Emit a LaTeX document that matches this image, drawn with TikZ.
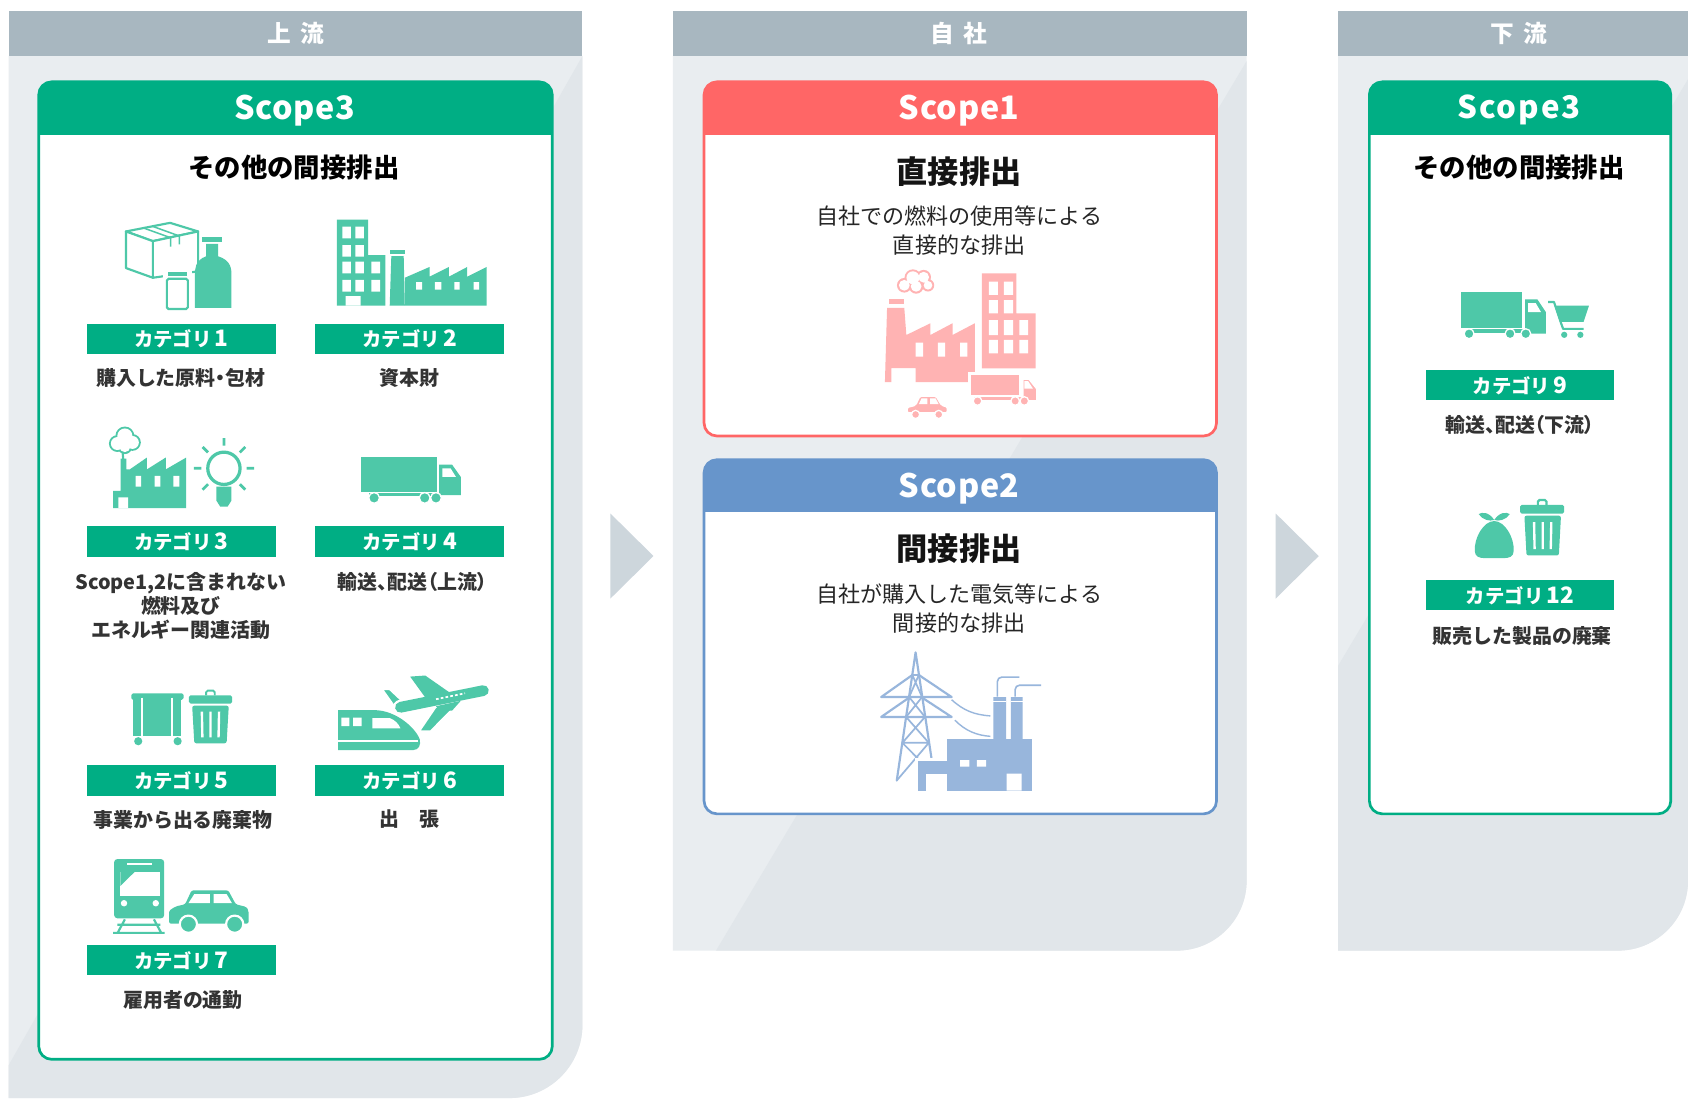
\documentclass[tikz,border=0pt]{standalone}
\usepackage{fontspec}
\setmainfont{Noto Sans CJK JP}
\newfontfamily\medfont{Noto Sans CJK JP}[LetterSpace=2]
\newfontfamily\widefont{Noto Sans CJK JP}[LetterSpace=6]
\newfontfamily\paltfont{Noto Sans CJK JP}[RawFeature=+palt]
\definecolor{hdrgray}{HTML}{A8B7C0}
\definecolor{panellt}{HTML}{E9EDF0}
\definecolor{paneldk}{HTML}{E1E6EA}
\definecolor{arrowgray}{HTML}{CDD6DC}
\definecolor{scgreen}{HTML}{00AE84}
\definecolor{icogreen}{HTML}{4EC8A8}
\definecolor{scred}{HTML}{FF6666}
\definecolor{icopink}{HTML}{FFB3B3}
\definecolor{scblue}{HTML}{6795CB}
\definecolor{icoblue}{HTML}{98B6DC}
\definecolor{txtdark}{HTML}{333333}
\newcommand\catnum[1]{\,{\fontsize{21}{21}\selectfont #1}}
\begin{document}
\begin{tikzpicture}[x=1pt,y=-1pt,
  flowhead/.style={text=white,inner sep=0,font=\fontsize{22}{24}\selectfont\bfseries},
  scopetitle/.style={text=white,inner sep=0,font=\medfont\fontsize{30}{32}\selectfont\bfseries},
  subtitle/.style={text=black,inner sep=0,font=\fontsize{24.5}{26}\selectfont\bfseries},
  catbar/.style={fill=scgreen,text=white,minimum width=175,minimum height=28,inner sep=0,
                 font=\fontsize{18}{20}\selectfont\bfseries},
  catdesc/.style={text=txtdark,inner sep=0,align=center,font=\fontsize{18.5}{22}\selectfont\bfseries},
  bigtitle/.style={text=black!92,inner sep=0,font=\fontsize{29}{31}\selectfont\bfseries},
  desc/.style={text=black!85,inner sep=0,align=center,font=\fontsize{20.5}{27}\selectfont},
  flowarrow/.style={fill=arrowgray},
  gline/.style={draw=icogreen,line width=2,line join=round},
  bline/.style={draw=icoblue,line width=2,line join=round,line cap=round},
  halo/.style={draw=white,line width=2.5},
]
\useasboundingbox (0,0) rectangle (1568,1020);
\fill[white] (0,0) rectangle (1568,1020);

% ---------- column backgrounds ----------
\begin{scope}
  \clip (8,52) -- (541,52) -- (541,952) arc[start angle=0,end angle=90,radius=68] -- (8,1020) -- cycle;
  \fill[panellt] (0,40) rectangle (600,1030);
  \fill[paneldk] (545,45) -- (600,45) -- (600,1030) -- (-15,1030) -- cycle;
\end{scope}
\begin{scope}
  \clip (625,52) -- (1158,52) -- (1158,818) arc[start angle=0,end angle=90,radius=65] -- (625,883) -- cycle;
  \fill[panellt] (600,40) rectangle (1200,900);
  \fill[paneldk] (1165,45) -- (1200,45) -- (1200,900) -- (655,900) -- cycle;
\end{scope}
\begin{scope}
  \clip (1243,52) -- (1568,52) -- (1568,818) arc[start angle=0,end angle=90,radius=65] -- (1243,883) -- cycle;
  \fill[panellt] (1230,40) rectangle (1600,900);
  \fill[paneldk] (1585,45) -- (1620,45) -- (1620,900) -- (1075,900) -- cycle;
\end{scope}
\fill[hdrgray] (8,10) rectangle (541,52);
\fill[hdrgray] (625,10) rectangle (1158,52);
\fill[hdrgray] (1243,10) rectangle (1568,52);
\node[flowhead] (hUp) at (275,31) {上\hspace{0.4em}流};
\node[flowhead] (hOwn) at (891,31) {自\hspace{0.4em}社};
\node[flowhead] (hDown) at (1411,31) {下\hspace{0.4em}流};

% flow arrows between the columns
\fill[flowarrow] (567,477) -- (607,516.5) -- (567,556) -- cycle;
\fill[flowarrow] (1185,477) -- (1225,516.5) -- (1185,556) -- cycle;

% ---------- scope boxes ----------
% upstream Scope3
\fill[white,rounded corners=12] (36,76) rectangle (513,984);
\begin{scope}
  \clip[rounded corners=12] (36,76) rectangle (513,984);
  \fill[scgreen] (36,76) rectangle (513,125);
\end{scope}
\draw[scgreen,line width=2.5,rounded corners=12] (36,76) rectangle (513,984);
% Scope1
\fill[white,rounded corners=12] (654,76) rectangle (1130,405);
\begin{scope}
  \clip[rounded corners=12] (654,76) rectangle (1130,405);
  \fill[scred] (654,76) rectangle (1130,125);
\end{scope}
\draw[scred,line width=2.5,rounded corners=12] (654,76) rectangle (1130,405);
% Scope2
\fill[white,rounded corners=12] (654,427) rectangle (1130,756);
\begin{scope}
  \clip[rounded corners=12] (654,427) rectangle (1130,756);
  \fill[scblue] (654,427) rectangle (1130,476);
\end{scope}
\draw[scblue,line width=2.5,rounded corners=12] (654,427) rectangle (1130,756);
% downstream Scope3
\fill[white,rounded corners=12] (1272,76) rectangle (1552,756);
\begin{scope}
  \clip[rounded corners=12] (1272,76) rectangle (1552,756);
  \fill[scgreen] (1272,76) rectangle (1552,125);
\end{scope}
\draw[scgreen,line width=2.5,rounded corners=12] (1272,76) rectangle (1552,756);

\node[scopetitle] (tS3u) at (274,102.5) {Scope3};
\node[scopetitle] (tS1) at (891,102.5) {Scope1};
\node[scopetitle] (tS2) at (891,453.5) {Scope2};
\node[scopetitle,font=\widefont\fontsize{29}{31}\selectfont\bfseries] (tS3d) at (1411,102.5) {Scope3};
\node[subtitle] (subU) at (273,156) {その他の間接排出};
\node[subtitle] (subD) at (1411,156) {その他の間接排出};

% ---------- category labels ----------
\node[catbar] (c1) at (168.5,315) {カテゴリ\catnum{1}};
\node[catbar] (c2) at (380.5,315) {カテゴリ\catnum{2}};
\node[catbar] (c3) at (168.5,503) {カテゴリ\catnum{3}};
\node[catbar] (c4) at (380.5,503) {カテゴリ\catnum{4}};
\node[catbar] (c5) at (168.5,725) {カテゴリ\catnum{5}};
\node[catbar] (c6) at (380.5,725) {カテゴリ\catnum{6}};
\node[catbar] (c7) at (168.5,892) {カテゴリ\catnum{7}};
\node[catbar] (c9) at (1412,358) {カテゴリ\catnum{9}};
\node[catbar] (c12) at (1412,553) {カテゴリ\catnum{12}};

\node[catdesc] (d1) at (168,351) {購入した原料{\paltfont ・}包材};
\node[catdesc] (d2) at (380,351) {資本財};
\node[catdesc] (d3) at (168,563) {Scope1,2に含まれない\\燃料及び\\エネルギー関連活動};
\node[catdesc] (d4) at (383,541) {輸送{\paltfont 、}配送{\paltfont （}上流{\paltfont ）}};
\node[catdesc] (d5) at (170,762) {事業から出る廃棄物};
\node[catdesc] (d6) at (380,761) {出　張};
\node[catdesc] (d7) at (170,929) {雇用者の通勤};
\node[catdesc] (d9) at (1412,395) {輸送{\paltfont 、}配送{\paltfont （}下流{\paltfont ）}};
\node[catdesc] (d12) at (1414,591) {販売した製品の廃棄};

\node[bigtitle] (t1) at (891,159) {直接排出};
\node[desc] (e1) at (891,214.5) {自社での燃料の使用等による\\直接的な排出};
\node[bigtitle] (t2) at (891,510) {間接排出};
\node[desc] (e2) at (891,565.5) {自社が購入した電気等による\\間接的な排出};

% ---------- icon: purchased goods (box, bottle, jar) ----------
\filldraw[gline,fill=white] (117,215) -- (158,207) -- (184,215) -- (142,224) -- cycle;
\filldraw[gline,fill=white] (142,224) -- (184,215) -- (184,252) -- (142,258) -- cycle;
\filldraw[gline,fill=white] (117,215) -- (142,224) -- (142,258) -- (117,249) -- cycle;
\draw[icogreen,line width=1.4] (133.4,211.8) -- (158.4,220.8) -- (158.4,229) (141.6,210.2) -- (166.6,219.2) -- (166.6,227);
\fill[icogreen] (188,220) rectangle (206,224.5);
\fill[icogreen] (191.5,226.5) -- (202.5,226.5) -- (202.5,238) .. controls (215,242) and (215,250) .. (215,256)
  -- (215,286) -- (181,286) -- (181,256) .. controls (181,250) and (181,242) .. (191.5,238) -- cycle;
\fill[white] (151.5,250) rectangle (178,290);
\fill[icogreen] (156,252.5) rectangle (173.5,256.5);
\draw[icogreen,line width=2,rounded corners=1.5] (155,259) rectangle (174.5,287);

% ---------- icon: capital goods (building, factory) ----------
\fill[icogreen] (313,204) rectangle (342,284) (342,237) rectangle (358,284);
\fill[white] (318,210.5) rectangle (326,221.4) (330,210.5) rectangle (338,221.4)
             (318,227.6) rectangle (326,238.4) (330,227.6) rectangle (338,238.4)
             (318,243) rectangle (326,254) (330,243) rectangle (338,254) (345,243) rectangle (353,254)
             (318,260) rectangle (326,271) (330,260) rectangle (338,271) (345,260) rectangle (353,271)
             (321,275) rectangle (335,284);
\fill[icogreen] (362,232) rectangle (376.5,236);
\fill[icogreen] (363.5,238) -- (375,238) -- (376,284) -- (362,284) -- cycle;
\fill[icogreen] (376,284) -- (376,258) -- (399,248) -- (399,257) -- (417,248) -- (417,257)
  -- (434,248) -- (434,257) -- (452,248) -- (452,284) -- cycle;
\fill[white] (386.5,262) rectangle (392,269) (404,262) rectangle (410,269)
             (422,262) rectangle (427,269) (440,262) rectangle (445,269);

% ---------- icon: fuel and energy (factory, bulb) ----------
\fill[icogreen] (109,412) circle (7.8) (116,405) circle (8.8) (123,411) circle (7.8) (116,415) circle (6.8);
\fill[white] (109,412) circle (6) (116,405) circle (7) (123,411) circle (6) (116,415) circle (5);
\draw[icogreen,line width=2] (114,421) -- (114.5,427);
\fill[icogreen] (105,472) -- (105,456) -- (112,456) -- (112,426) -- (117.5,426) -- (117.5,436) -- (120.6,436)
  -- (136.5,425) -- (136.5,436) -- (154,425) -- (154,436) -- (173,425) -- (173,472) -- cycle;
\fill[white] (126,442) rectangle (131,452) (143.6,442) rectangle (149,452) (161,442) rectangle (166.7,452)
             (110,462) rectangle (119,472);
\draw[icogreen,line width=3,fill=white] (208,435) circle (15);
\fill[icogreen] (201,452) -- (215,452) -- (215,465) -- (211.5,470.5) -- (204.5,470.5) -- (201,465) -- cycle;
\draw[icogreen,line width=2.5] (208,414) -- (208,407) (187,435) -- (180,435) (229,435) -- (236,435)
  (193.2,420.2) -- (188.2,415.2) (222.8,420.2) -- (227.8,415.2)
  (193.2,449.8) -- (188.2,454.8) (222.8,449.8) -- (227.8,454.8);

% ---------- icon: upstream transport (truck) ----------
\fill[icogreen] (335,424.5) rectangle (406,456.6);
\fill[icogreen] (408,431.7) -- (420,431.7) -- (428,443) -- (428,460) -- (408,460) -- cycle;
\fill[white] (411,435) -- (418.5,435) -- (423.5,443) -- (411,443) -- cycle;
\fill[icogreen] (343,457.5) rectangle (408,460.5);
\filldraw[fill=icogreen,draw=white,line width=1.2] (347.5,462.5) circle (5) (394.5,462.5) circle (5) (405,462.5) circle (5);

% ---------- icon: waste (dumpster, bin) ----------
\fill[icogreen,rounded corners=1.5] (122,644) rectangle (170.5,650);
\fill[icogreen] (124,650) rectangle (168.5,684);
\draw[white,line width=1.5] (132,648) -- (132,684) (160,648) -- (160,684);
\fill[icogreen] (128.4,688.5) circle (3.8) (165,688.5) circle (3.8);
\fill[icogreen,rounded corners=1.5] (175.5,646) rectangle (215.6,653.5);
\draw[icogreen,line width=1.8,rounded corners=1.5] (191.5,646) -- (191.5,641.5) -- (199.5,641.5) -- (199.5,646);
\fill[icogreen,rounded corners=2] (178.5,655.5) -- (212.5,655.5) -- (210.5,690.5) -- (180.5,690.5) -- cycle;
\draw[white,line width=2.2] (187.5,661) -- (188,685) (195.5,661) -- (195.5,685) (203.5,661) -- (203,685);

% ---------- icon: business travel (bullet train, plane) ----------
\fill[icogreen] (314,659.6) -- (348,659.6) .. controls (368,660) and (386,676) .. (390,687)
  .. controls (391,692) and (389,696.7) .. (384,696.7) -- (314,696.7) -- cycle;
\fill[white] (317,666.5) rectangle (324.5,674.5) (328,666.5) rectangle (336,674.5);
\fill[white] (346,667) -- (362,667) .. controls (367,669) and (370,672) .. (372,676.5) -- (346,676.5) -- cycle;
\draw[white,line width=1.4] (314,688.5) -- (388,688.5);
\filldraw[fill=icogreen,halo,line width=2] (405,656) -- (428,651) -- (400,679.5) -- (389,679.5) -- cycle;
\filldraw[fill=icogreen,halo,line width=2] (354.6,640) -- (362,640) -- (378,655) -- (368.8,660) -- cycle;
\draw[white,line width=14,line cap=round] (372,657) -- (449,641.5);
\draw[icogreen,line width=10,line cap=round] (372,657) -- (449,641.5);
\fill[icogreen] (398,652) -- (381,628.5) -- (395,627.5) -- (423,647) -- cycle;
\fill[icogreen] (405,656) -- (428,651) -- (420,660) -- (408,660) -- cycle;
\draw[white,line width=1.6,dash pattern=on 2.5pt off 2pt] (405,649.5) -- (432,644);

% ---------- icon: commuting (train, car) ----------
\fill[icogreen,rounded corners=3] (106,798) rectangle (152.5,853);
\draw[white,line width=1.8] (118,803) -- (141,803);
\fill[white] (111.7,810) rectangle (149,832);
\fill[icogreen] (111.7,810) -- (125,810) -- (111.7,823) -- cycle;
\fill[white] (115.2,839) circle (3) (144.7,839) circle (3);
\draw[icogreen,line width=2] (109,859) -- (149,859) (105,866.5) -- (153,866.5)
  (116,854) -- (109,867) (143,854) -- (150,867);
\fill[icogreen,rounded corners=2] (157,858) -- (157,846) -- (163,842) -- (172,840) -- (178,827)
  -- (212,827) -- (219,840) -- (229,842.5) -- (231,846) -- (231,858) -- cycle;
\fill[white] (180.5,830.5) -- (195,830.5) -- (195,839) -- (175,839) -- cycle
             (198.5,830.5) -- (210.5,830.5) -- (215.5,839) -- (198.5,839) -- cycle;
\filldraw[fill=icogreen,draw=white,line width=2] (175,858.5) circle (8) (218,858.5) circle (8);

% ---------- icon: downstream transport (truck, cart) ----------
\fill[icogreen] (1357,271.7) rectangle (1414,305);
\fill[icogreen] (1416.7,278) -- (1428,278) -- (1436,290) -- (1436,310) -- (1416.7,310) -- cycle;
\fill[white] (1419.5,281.5) -- (1426.5,281.5) -- (1431.5,290) -- (1419.5,290) -- cycle;
\fill[icogreen] (1362,305.5) rectangle (1417,309);
\filldraw[fill=icogreen,draw=white,line width=1.2] (1364.6,310) circle (4.6) (1402.7,310) circle (4.6) (1417.3,310) circle (4.6);
\draw[icogreen,line width=2,line join=round] (1438,280.5) -- (1443.5,280.5) -- (1450,300) -- (1452,305.5) -- (1471,305.5);
\fill[icogreen] (1444,284) -- (1476,284) -- (1471,299) -- (1449,299) -- cycle;
\fill[icogreen] (1453,311) circle (2.9) (1468,311) circle (2.9);

% ---------- icon: end-of-life disposal (bag, bin) ----------
\fill[icogreen] (1388,484) .. controls (1398,484) and (1407,500) .. (1406,512)
  .. controls (1406,517) and (1402,518.5) .. (1396,518.5) -- (1380,518.5)
  .. controls (1374,518.5) and (1370,517) .. (1370,512) .. controls (1369,500) and (1378,484) .. (1388,484) -- cycle;
\fill[icogreen] (1388,483) .. controls (1383,475.5) and (1377,475.5) .. (1373.5,477.5) .. controls (1377,483) and (1384,484.5) .. (1388,483) -- cycle;
\fill[icogreen] (1388,483) .. controls (1393,475.5) and (1399,475.5) .. (1402.5,477.5) .. controls (1399,483) and (1392,484.5) .. (1388,483) -- cycle;
\fill[icogreen,rounded corners=1.5] (1412,469) rectangle (1453,477);
\draw[icogreen,line width=2,rounded corners=1.5] (1428.5,469) -- (1428.5,464.5) -- (1436.5,464.5) -- (1436.5,469);
\fill[icogreen,rounded corners=2] (1416,479) -- (1450,479) -- (1448,516) -- (1418,516) -- cycle;
\draw[white,line width=2.2] (1425,485) -- (1425.5,510) (1433,485) -- (1433,510) (1441,485) -- (1440.5,510);

% ---------- icon: direct emissions (factory, office, truck, car) ----------
\fill[icopink] (840,265) circle (6.8) (848,258) circle (7.8) (858,257.5) circle (6.8) (862,265) circle (5.8) (851,266) circle (6.8);
\fill[white] (840,265) circle (5) (848,258) circle (6) (858,257.5) circle (5) (862,265) circle (4) (851,266) circle (5);
\fill[icopink] (826,278) rectangle (840,282);
\fill[icopink] (822,355) -- (824,286) -- (840,286) -- (841.9,311.2) -- (864.2,300.3) -- (864.2,311.2)
  -- (884.8,300.3) -- (884.8,311.2) -- (905.5,300.3) -- (905.5,355) -- (850.5,355) -- (850.5,342)
  -- (828,342) -- (828,355) -- cycle;
\fill[white] (850.5,318.3) rectangle (857.4,331.3) (871.1,318.3) rectangle (878,331.3) (891.8,318.3) rectangle (898.7,331.3);
\fill[icopink] (912,254) rectangle (944,342.2) (944,291) rectangle (962,342.2);
\fill[white] (918.5,261.7) rectangle (927,274) (932.5,261.7) rectangle (941,274)
             (918.5,278.7) rectangle (927,291) (932.5,278.7) rectangle (941,291)
             (918.5,297.3) rectangle (927,311.2) (932.5,297.3) rectangle (941,311.2) (947,297.3) rectangle (955,311.2)
             (918.5,315.8) rectangle (927,328.2) (932.5,315.8) rectangle (941,328.2) (947,315.8) rectangle (955,328.2);
\filldraw[fill=icopink,halo] (900.3,346.8) rectangle (948.2,368.5);
\filldraw[fill=icopink,halo] (949.5,351.5) -- (956,351.5) -- (963.7,361) -- (963.7,373) -- (949.5,373) -- cycle;
\fill[white] (951.5,354) -- (955,354) -- (959.5,361) -- (951.5,361) -- cycle;
\fill[icopink] (905,369) rectangle (950,372);
\filldraw[fill=icopink,draw=white,line width=1.2] (908,372.5) circle (4) (943,372.5) circle (4) (951.5,372.5) circle (4);
\filldraw[fill=icopink,halo,rounded corners=1.5] (842,384) -- (842,378) -- (850,376) -- (854,367.5) -- (870,367.5)
  -- (875,376) -- (880.6,377.5) -- (880.6,384) -- cycle;
\fill[white] (856,370) -- (861.5,370) -- (861.5,375.5) -- (853.5,375.5) -- cycle
             (864,370) -- (869,370) -- (872,375.5) -- (864,375.5) -- cycle;
\filldraw[fill=icopink,draw=white,line width=1.2] (850.5,385) circle (3.8) (872,385) circle (3.8);

% ---------- icon: purchased electricity (pylon, power plant) ----------
\draw[bline] (850.5,606) -- (833,725) (850.5,606) -- (867,716);
\draw[bline] (818.5,647.5) -- (884,647.5) (818.5,647.5) -- (847.5,627) (884,647.5) -- (853.5,627);
\draw[bline] (818.5,666) -- (884,666) (818.5,666) -- (844.5,648) (884,666) -- (856.5,648);
\draw[bline,line width=1.6] (847.5,627) -- (853.5,627) (847.5,627) -- (856.5,647.5) (853.5,627) -- (844.5,647.5)
  (844.5,647.5) -- (859.2,666) (856.5,647.5) -- (841.7,666)
  (841.7,666) -- (862.8,690) (859.2,666) -- (838.2,690) (838.2,690) -- (862.8,690)
  (838.2,690) -- (866,718) (862.8,690) -- (833,725);
\draw[icoblue,line width=1.3] (884,650) .. controls (895,660) and (905,664) .. (920,665)
  (887,669) .. controls (897,679) and (907,683) .. (920,684);
\draw[icoblue,line width=1.5,rounded corners=4] (926.5,647) -- (926.5,629) -- (947,629)
  (943,647) -- (943,636.5) -- (967,636.5);
\fill[icoblue] (922.7,647.5) rectangle (934.5,687) (939,647.5) rectangle (950,687);
\draw[white,line width=1] (922.7,652) -- (934.5,652) (939,652) -- (950,652);
\fill[icoblue] (880,686.5) rectangle (959,734.5);
\fill[white] (850,704) rectangle (880,737);
\fill[icoblue] (853,707) rectangle (880.5,734.5);
\fill[white] (860,718.7) rectangle (880,734.5);
\fill[white] (891.8,706) rectangle (900.4,712.2) (907.3,706) rectangle (915.9,712.2) (935.1,718.7) rectangle (948.9,734.5);
\end{tikzpicture}
\end{document}
